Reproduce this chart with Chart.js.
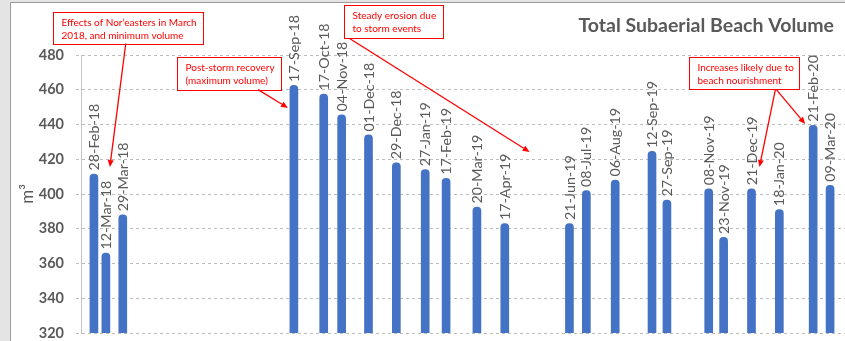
<!DOCTYPE html>
<html>
<head>
<meta charset="utf-8">
<title>Total Subaerial Beach Volume</title>
<script src="https://cdn.jsdelivr.net/npm/chart.js@4.4.1/dist/chart.umd.min.js"></script>
<style>
  html, body { margin: 0; padding: 0; background: #ffffff; }
  #wrap { width: 845px; height: 341px; position: relative; }
</style>
</head>
<body>
<div id="wrap"><canvas id="chart" width="845" height="341"></canvas></div>
<script>
// Survey dates (ISO) and the labels printed above each bar
const surveyDates = [
  '2018-02-28', '2018-03-12', '2018-03-29', '2018-09-17', '2018-10-17', '2018-11-04',
  '2018-12-01', '2018-12-29', '2019-01-27', '2019-02-17', '2019-03-20', '2019-04-17',
  '2019-06-21', '2019-07-08', '2019-08-06', '2019-09-12', '2019-09-27', '2019-11-08',
  '2019-11-23', '2019-12-21', '2020-01-18', '2020-02-21', '2020-03-09'
];
const dateLabels = [
  '28-Feb-18', '12-Mar-18', '29-Mar-18', '17-Sep-18', '17-Oct-18', '04-Nov-18',
  '01-Dec-18', '29-Dec-18', '27-Jan-19', '17-Feb-19', '20-Mar-19', '17-Apr-19',
  '21-Jun-19', '08-Jul-19', '06-Aug-19', '12-Sep-19', '27-Sep-19', '08-Nov-19',
  '23-Nov-19', '21-Dec-19', '18-Jan-20', '21-Feb-20', '09-Mar-20'
];
// Total subaerial beach volume (m³) per survey
const volumes = [
  411.5, 366, 388, 462.5, 457.5, 445.5,
  434, 418, 414, 409, 392.5, 383,
  383, 402, 408, 424.5, 396.5, 403,
  375, 403, 391, 439.5, 405
];
// Axis ranges
const dateRange = ['2018-02-15', '2020-03-24'];
const volumeTicks = [320, 340, 360, 380, 400, 420, 440, 460, 480];

// Callout boxes: top-left anchor in data units (date, m³), arrows from/to data points
const callouts = [
  { at: ['2018-01-18', 505.0], w: 150, h: 32,
    lines: ['Effects of Nor\u2019easters in March', '2018, and minimum volume'],
    arrows: [[['2018-04-01', 486.6], ['2018-03-16', 415.5]]] },
  { at: ['2018-05-23', 479.1], w: 104, h: 33,
    lines: ['Post-storm recovery', '(maximum volume)'],
    arrows: [[['2018-08-12', 460.1], ['2018-09-11', 449.5]]] },
  { at: ['2018-11-06', 508.5], w: 99, h: 33,
    lines: ['Steady erosion due', 'to storm events'],
    arrows: [[['2018-11-12', 489.5], ['2019-05-12', 424.2]]] },
  { at: ['2019-10-19', 478.6], w: 110, h: 32,
    lines: ['Increases likely due to', 'beach nourishment'],
    arrows: [[['2020-01-14', 460.1], ['2019-12-29', 415.5]],
             [['2020-01-15', 460.1], ['2020-02-13', 440.3]]] }
];

const DAY = 86400000;
const dayNum = s => Date.UTC(+s.slice(0, 4), +s.slice(5, 7) - 1, +s.slice(8, 10)) / DAY;

const TEXT_GREY = '#595959';
const RED = '#ff0000';

// Window frame: grey margin with a dark edge around the white plot panel
const framePlugin = {
  id: 'frame',
  beforeDraw(chart) {
    const { ctx, width, height } = chart;
    ctx.save();
    ctx.fillStyle = '#e4e4e4';
    ctx.fillRect(0, 0, width, height);
    ctx.fillStyle = '#ffffff';
    ctx.fillRect(10, 2, width - 10, height - 2);
    ctx.strokeStyle = '#9a9a9a';
    ctx.lineWidth = 1;
    ctx.beginPath();
    ctx.moveTo(10.5, height);
    ctx.lineTo(10.5, 2.5);
    ctx.lineTo(width, 2.5);
    ctx.stroke();
    ctx.restore();
  }
};

// Rotated date label above each bar
const dateLabelPlugin = {
  id: 'dateLabels',
  afterDatasetsDraw(chart) {
    const { ctx } = chart;
    const meta = chart.getDatasetMeta(0);
    ctx.save();
    ctx.font = '14.3px Lato';
    ctx.fillStyle = TEXT_GREY;
    ctx.textAlign = 'left';
    ctx.textBaseline = 'middle';
    meta.data.forEach((bar, i) => {
      ctx.save();
      ctx.translate(bar.x + 0.5, bar.y - 3.5);
      ctx.rotate(-Math.PI / 2);
      ctx.fillText(dateLabels[i], 0, 0);
      ctx.restore();
    });
    ctx.restore();
  }
};

function arrow(ctx, x1, y1, x2, y2) {
  const ang = Math.atan2(y2 - y1, x2 - x1);
  const len = 7, half = 3;
  const bx = x2 - len * Math.cos(ang), by = y2 - len * Math.sin(ang);
  ctx.beginPath();
  ctx.moveTo(x1, y1);
  ctx.lineTo(bx, by);
  ctx.stroke();
  ctx.beginPath();
  ctx.moveTo(x2, y2);
  ctx.lineTo(bx + half * Math.sin(ang), by - half * Math.cos(ang));
  ctx.lineTo(bx - half * Math.sin(ang), by + half * Math.cos(ang));
  ctx.closePath();
  ctx.fill();
}

// Chart title and the red callouts
const overlayPlugin = {
  id: 'overlay',
  afterDraw(chart) {
    const { ctx, scales: { x, y } } = chart;
    const px = d => x.getPixelForValue(dayNum(d));
    const py = v => y.getPixelForValue(v);
    ctx.save();
    ctx.font = 'bold 19.5px Lato';
    ctx.fillStyle = TEXT_GREY;
    ctx.textAlign = 'right';
    ctx.textBaseline = 'alphabetic';
    ctx.fillText('Total Subaerial Beach Volume', 834, 32);

    callouts.forEach(c => {
      const bx = Math.round(px(c.at[0])) + 0.5;
      const by = Math.round(py(c.at[1])) + 0.5;
      ctx.fillStyle = '#ffffff';
      ctx.fillRect(bx, by, c.w, c.h);
      ctx.strokeStyle = RED;
      ctx.lineWidth = 1;
      ctx.strokeRect(bx, by, c.w, c.h);
      ctx.fillStyle = RED;
      ctx.font = '10px Lato';
      ctx.textAlign = 'left';
      ctx.textBaseline = 'middle';
      c.lines.forEach((t, k) => ctx.fillText(t, bx + 8, by + 10 + k * 13));
      ctx.lineWidth = 1.3;
      c.arrows.forEach(a => arrow(ctx, px(a[0][0]), py(a[0][1]), px(a[1][0]), py(a[1][1])));
    });
    ctx.restore();
  }
};

new Chart(document.getElementById('chart'), {
  type: 'bar',
  data: {
    datasets: [{
      label: 'Total Subaerial Beach Volume',
      data: surveyDates.map((d, i) => ({ x: dayNum(d), y: volumes[i] })),
      backgroundColor: '#4472c4',
      barThickness: 8,
      borderRadius: 4,
      borderSkipped: 'start'
    }]
  },
  options: {
    responsive: false,
    animation: false,
    events: [],
    layout: { padding: { top: 55, right: 0, bottom: 8, left: 0 } },
    plugins: { legend: { display: false }, tooltip: { enabled: false }, title: { display: false } },
    scales: {
      x: {
        type: 'linear',
        min: dayNum(dateRange[0]),
        max: dayNum(dateRange[1]),
        offset: false,
        display: false
      },
      y: {
        min: volumeTicks[0],
        max: volumeTicks[volumeTicks.length - 1],
        afterBuildTicks(scale) { scale.ticks = volumeTicks.map(v => ({ value: v })); },
        afterFit(scale) {
          scale.width = 81;
          scale.paddingTop = 0;
          scale.paddingBottom = 0;
        },
        ticks: {
          font: { family: 'Lato', size: 14.5, weight: 'bold' },
          color: TEXT_GREY,
          padding: 12
        },
        grid: {
          color: '#bdbdbd',
          lineWidth: 1,
          tickLength: 5,
          tickBorderDash: [3, 3]
        },
        border: { display: true, color: '#c4c4c4', dash: [3, 3] },
        title: {
          display: true,
          text: 'm\u00b3',
          font: { family: 'Lato', size: 17 },
          color: TEXT_GREY,
          padding: { top: 17, bottom: 0 }
        }
      }
    }
  },
  plugins: [framePlugin, dateLabelPlugin, overlayPlugin]
});
</script>
</body>
</html>
